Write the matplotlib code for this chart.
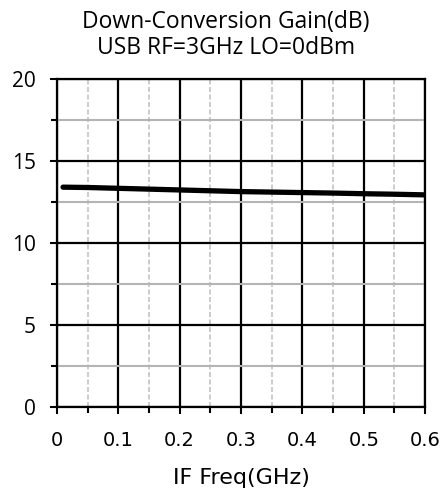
# Down-conversion gain vs IF frequency
import matplotlib.pyplot as plt
from matplotlib.ticker import MultipleLocator

plt.rcParams['font.family'] = ['Open Sans', 'DejaVu Sans']

# IF frequency (GHz) and gain (dB)
if_freq = [0.01, 0.05, 0.1, 0.15, 0.2, 0.25, 0.3, 0.35, 0.4, 0.45, 0.5, 0.55, 0.6]
gain = [13.40, 13.38, 13.33, 13.28, 13.23, 13.18, 13.13, 13.10, 13.07, 13.04, 13.00, 12.97, 12.93]
x_ticks = [0, 0.1, 0.2, 0.3, 0.4, 0.5, 0.6]
x_labels = ['0', '0.1', '0.2', '0.3', '0.4', '0.5', '0.6']

fig = plt.figure(figsize=(4.48, 4.93), dpi=100)
ax = fig.add_axes([0.127, 0.1744, 0.822, 0.6656])

ax.plot(if_freq, gain, color='black', linewidth=3.8, solid_capstyle='round')

ax.set_xlim(0, 0.6)
ax.set_ylim(0, 20)
ax.xaxis.set_minor_locator(MultipleLocator(0.05))
ax.yaxis.set_major_locator(MultipleLocator(5))
ax.yaxis.set_minor_locator(MultipleLocator(2.5))
ax.set_xticks(x_ticks)
ax.set_xticklabels(x_labels, fontfamily='DejaVu Sans', fontsize=14)
for lbl in ax.get_yticklabels():
    lbl.set_fontsize(15)

ax.grid(which='major', color='black', linewidth=1.6)
ax.grid(which='minor', axis='x', color='#c4c4c4', linestyle=(0, (3, 1.5)), linewidth=1.2)
ax.grid(which='minor', axis='y', color='#b4b4b4', linestyle='-', linewidth=1.5)
ax.set_axisbelow(True)

for s in ax.spines.values():
    s.set_linewidth(1.6)
ax.tick_params(which='both', direction='out', width=1.5)
ax.tick_params(which='major', length=5)
ax.tick_params(which='minor', length=4)
ax.tick_params(axis='x', which='major', pad=12)
ax.tick_params(axis='y', which='major', pad=10)

ax.set_title('Down-Conversion Gain(dB)\nUSB RF=3GHz LO=0dBm', fontsize=16.5, pad=18,
             linespacing=1.1, x=0.459)
ax.set_xlabel('IF Freq(GHz)', fontfamily='DejaVu Sans', fontsize=16, labelpad=13)

fig.savefig('out.png', dpi=100)
